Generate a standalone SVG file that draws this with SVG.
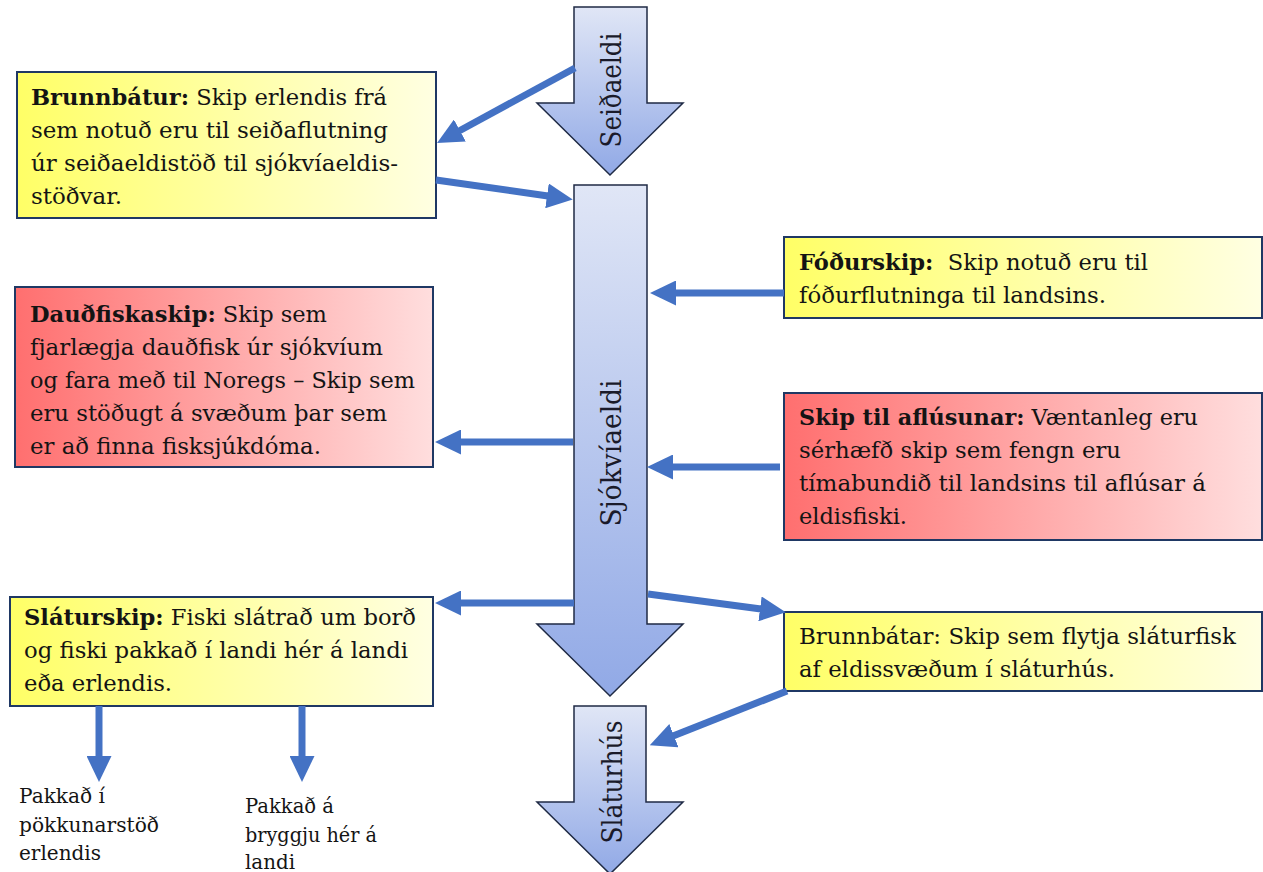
<svg xmlns="http://www.w3.org/2000/svg" width="1263" height="872" viewBox="0 0 1263 872">
  <defs>
    <linearGradient id="gBig" x1="0" y1="0" x2="0" y2="1">
      <stop offset="0" stop-color="#e0e6f6"/>
      <stop offset="1" stop-color="#91a9e6"/>
    </linearGradient>
    <linearGradient id="gYellow" x1="0" y1="0" x2="1" y2="0">
      <stop offset="0" stop-color="#ffff66"/>
      <stop offset="1" stop-color="#ffffe2"/>
    </linearGradient>
    <linearGradient id="gRed" x1="0" y1="0" x2="1" y2="0">
      <stop offset="0" stop-color="#ff6f6f"/>
      <stop offset="1" stop-color="#ffdede"/>
    </linearGradient>
    <marker id="ah" markerUnits="userSpaceOnUse" markerWidth="26" markerHeight="25" viewBox="0 0 26 25" refX="1" refY="12.5" orient="auto">
      <path d="M0,0 L26,12.5 L0,25 Z" fill="#4472c4"/>
    </marker>
    <style>
      .big { fill: url(#gBig); stroke: #1f2a44; stroke-width: 1.5; }
      .yb { fill: url(#gYellow); stroke: #1f3864; stroke-width: 2; }
      .rb { fill: url(#gRed); stroke: #1f3864; stroke-width: 2; }
      .t { font-family: "DejaVu Serif", "Liberation Serif", serif; font-size: 22px; fill: #141414; }
      .b { font-weight: bold; }
      .s { font-family: "DejaVu Serif", "Liberation Serif", serif; font-size: 20px; fill: #141414; }
      .v { font-family: "DejaVu Serif", "Liberation Serif", serif; font-size: 27px; fill: #1a1a2a; text-anchor: middle; }
      .c { fill: none; stroke: #4472c4; stroke-width: 7; marker-end: url(#ah); }
    </style>
  </defs>

  <g id="seidaeldi">
    <path class="big" d="M574,7 L647,7 L647,103 L683,103 L610,175 L537,103 L574,103 Z"/>
    <text class="v" transform="translate(621,90) rotate(-90)" textLength="115" lengthAdjust="spacingAndGlyphs">Seiðaeldi</text>
  </g>

  <g id="sjokviaeldi">
    <path class="big" d="M574,185 L647,185 L647,624 L683,624 L610,696 L537,624 L574,624 Z"/>
    <text class="v" transform="translate(621,453) rotate(-90)" textLength="147" lengthAdjust="spacingAndGlyphs">Sjókvíaeldi</text>
  </g>

  <g id="slaturhus">
    <path class="big" d="M574,706 L646,706 L646,802 L683,802 L610,874 L537,802 L574,802 Z"/>
    <text class="v" transform="translate(622,782) rotate(-90)" textLength="123" lengthAdjust="spacingAndGlyphs">Sláturhús</text>
  </g>

  <g id="brunnbatur">
    <rect class="yb" x="17" y="72" width="419" height="146"/>
    <text class="t" x="31" y="105" textLength="356" lengthAdjust="spacingAndGlyphs"><tspan class="b">Brunnbátur:</tspan> Skip erlendis frá</text>
    <text class="t" x="31" y="138" textLength="357" lengthAdjust="spacingAndGlyphs">sem notuð eru til seiðaflutning</text>
    <text class="t" x="31" y="171" textLength="367" lengthAdjust="spacingAndGlyphs">úr seiðaeldistöð til sjókvíaeldis-</text>
    <text class="t" x="31" y="204" textLength="91" lengthAdjust="spacingAndGlyphs">stöðvar.</text>
  </g>

  <g id="daudfiskaskip">
    <rect class="rb" x="15" y="287" width="418" height="180"/>
    <text class="t" x="30" y="322" textLength="297" lengthAdjust="spacingAndGlyphs"><tspan class="b">Dauðfiskaskip:</tspan> Skip sem</text>
    <text class="t" x="30" y="355" textLength="353" lengthAdjust="spacingAndGlyphs">fjarlægja dauðfisk úr sjókvíum</text>
    <text class="t" x="30" y="388" textLength="385" lengthAdjust="spacingAndGlyphs">og fara með til Noregs – Skip sem</text>
    <text class="t" x="30" y="421" textLength="357" lengthAdjust="spacingAndGlyphs">eru stöðugt á svæðum þar sem</text>
    <text class="t" x="30" y="454" textLength="291" lengthAdjust="spacingAndGlyphs">er að finna fisksjúkdóma.</text>
  </g>

  <g id="fodurskip">
    <rect class="yb" x="784" y="237" width="478" height="81"/>
    <text class="t" x="799" y="270" textLength="349" lengthAdjust="spacingAndGlyphs" style="white-space:pre"><tspan class="b">Fóðurskip:</tspan>  Skip notuð eru til</text>
    <text class="t" x="799" y="303" textLength="307" lengthAdjust="spacingAndGlyphs">fóðurflutninga til landsins.</text>
  </g>

  <g id="aflusun">
    <rect class="rb" x="784" y="393" width="478" height="147"/>
    <text class="t" x="799" y="425" textLength="399" lengthAdjust="spacingAndGlyphs"><tspan class="b">Skip til aflúsunar:</tspan> Væntanleg eru</text>
    <text class="t" x="799" y="458" textLength="322" lengthAdjust="spacingAndGlyphs">sérhæfð skip sem fengn eru</text>
    <text class="t" x="799" y="491" textLength="407" lengthAdjust="spacingAndGlyphs">tímabundið til landsins til aflúsar á</text>
    <text class="t" x="799" y="524" textLength="108" lengthAdjust="spacingAndGlyphs">eldisfiski.</text>
  </g>

  <g id="slaturskip">
    <rect class="yb" x="10" y="597" width="423" height="109"/>
    <text class="t" x="24" y="625" textLength="392" lengthAdjust="spacingAndGlyphs"><tspan class="b">Sláturskip:</tspan> Fiski slátrað um borð</text>
    <text class="t" x="24" y="658" textLength="384" lengthAdjust="spacingAndGlyphs">og fiski pakkað í landi hér á landi</text>
    <text class="t" x="24" y="691" textLength="148" lengthAdjust="spacingAndGlyphs">eða erlendis.</text>
  </g>

  <g id="brunnbatar">
    <rect class="yb" x="784" y="612" width="478" height="79"/>
    <text class="t" x="799" y="644" textLength="437" lengthAdjust="spacingAndGlyphs">Brunnbátar: Skip sem flytja sláturfisk</text>
    <text class="t" x="799" y="677" textLength="316" lengthAdjust="spacingAndGlyphs">af eldissvæðum í sláturhús.</text>
  </g>

  <g id="pakkad-erlendis">
    <text class="s" x="19" y="803" textLength="86" lengthAdjust="spacingAndGlyphs">Pakkað í</text>
    <text class="s" x="19" y="832" textLength="140" lengthAdjust="spacingAndGlyphs">pökkunarstöð</text>
    <text class="s" x="19" y="860" textLength="82" lengthAdjust="spacingAndGlyphs">erlendis</text>
  </g>

  <g id="pakkad-bryggju">
    <text class="s" x="245" y="813" textLength="89" lengthAdjust="spacingAndGlyphs">Pakkað á</text>
    <text class="s" x="245" y="842" textLength="132" lengthAdjust="spacingAndGlyphs">bryggju hér á</text>
    <text class="s" x="245" y="869" textLength="50" lengthAdjust="spacingAndGlyphs">landi</text>
  </g>

  <g id="connectors">
    <path class="c" d="M575,68 L459,131"/>
    <path class="c" d="M436,180 L548,196"/>
    <path class="c" d="M784,293 L675,293"/>
    <path class="c" d="M573,442 L460,442"/>
    <path class="c" d="M780,467 L672,467"/>
    <path class="c" d="M574,603 L460,603"/>
    <path class="c" d="M648,594 L761,609"/>
    <path class="c" d="M787,691 L673,736"/>
    <path class="c" d="M99,706 L99,757"/>
    <path class="c" d="M302,706 L302,757"/>
  </g>
</svg>
